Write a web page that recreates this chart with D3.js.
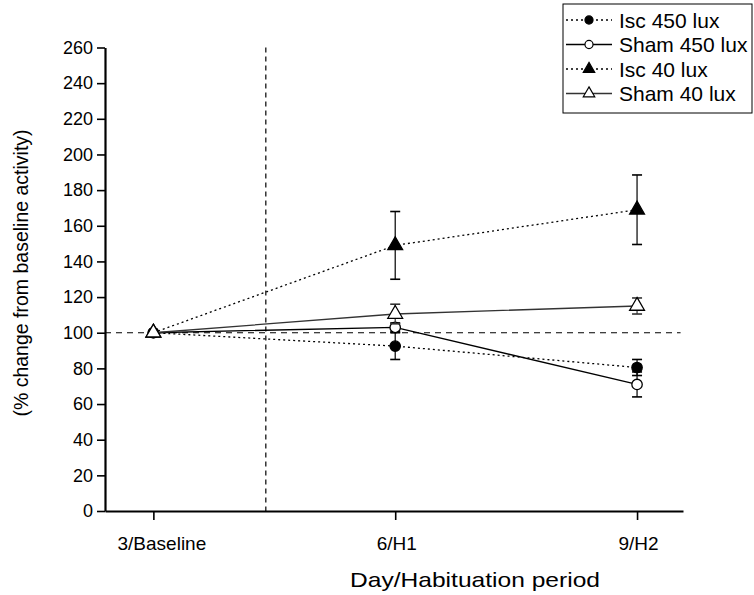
<!DOCTYPE html>
<html>
<head>
<meta charset="utf-8">
<script src="https://cdn.jsdelivr.net/npm/d3@7"></script>
<style>
  body { margin: 0; background: #fff; }
  text { font-family: "Liberation Sans", Arial, sans-serif; fill: #000; }
</style>
</head>
<body>
<script>
// categories on the x axis
var periods = ["3/Baseline", "6/H1", "9/H2"];

// series values (% change from baseline) and error bar half-widths
var isc450 = [100, 92.5, 80.5];
var isc450Err = [0, 7.5, 4.5];
var sham450 = [100, 103, 71];
var sham450Err = [0, 2.5, 7];
var isc40 = [100, 149, 169];
var isc40Err = [0, 19, 19.5];
var sham40 = [100, 110.5, 115];
var sham40Err = [0, 5.5, 4.5];

var yTicks = [0, 20, 40, 60, 80, 100, 120, 140, 160, 180, 200, 220, 240, 260];
var seriesNames = ["Isc 450 lux", "Sham 450 lux", "Isc 40 lux", "Sham 40 lux"];

var svg = d3.select("body").append("svg")
    .attr("width", 754)
    .attr("height", 595);

// scales
var x = d3.scaleLinear().domain([-0.2, 2.19]).range([105, 683]);
var y = d3.scaleLinear().domain([0, 260]).range([511, 47.5]);

// reference lines
svg.append("line")
    .attr("x1", x(-0.2)).attr("x2", x(2.18))
    .attr("y1", y(100)).attr("y2", y(100))
    .attr("stroke", "#000").attr("stroke-width", 1.2)
    .attr("stroke-dasharray", "6,5");

svg.append("line")
    .attr("x1", x(0.465)).attr("x2", x(0.465))
    .attr("y1", y(260)).attr("y2", y(0))
    .attr("stroke", "#000").attr("stroke-width", 1.2)
    .attr("stroke-dasharray", "5,4");

// axes
var yAxis = svg.append("g")
    .attr("transform", "translate(105,0)")
    .call(d3.axisLeft(y).tickValues(yTicks).tickSize(8).tickSizeOuter(0).tickPadding(4));

var xAxis = svg.append("g")
    .attr("transform", "translate(0,511)")
    .call(d3.axisBottom(x).tickValues([0, 1, 2]).tickFormat(function(i) { return periods[i]; })
      .tickSize(9).tickSizeOuter(0).tickPadding(17));

[yAxis, xAxis].forEach(function(a) {
  a.select(".domain").attr("stroke-width", 2.2);
  a.selectAll(".tick line").attr("stroke-width", 1.6);
  a.selectAll("text").style("font-size", "18px").style("font-family", "'Liberation Sans', Arial, sans-serif");
});
xAxis.selectAll(".tick text")
    .style("font-size", "19px")
    .attr("dx", function(d) { return d === 0 ? 8 : 1; });

// axis titles
svg.append("text")
    .attr("x", 475).attr("y", 587)
    .attr("text-anchor", "middle")
    .attr("textLength", 250)
    .attr("lengthAdjust", "spacingAndGlyphs")
    .style("font-size", "21px")
    .text("Day/Habituation period");

svg.append("text")
    .attr("transform", "translate(28,273) rotate(-90)")
    .attr("text-anchor", "middle")
    .style("font-size", "19.5px")
    .text("(% change from baseline activity)");

// series definitions
var series = [
  {name: seriesNames[0], values: isc450, err: isc450Err, dash: "2,3", color: "#000", shape: "circle", fill: "#000"},
  {name: seriesNames[1], values: sham450, err: sham450Err, dash: null, color: "#000", shape: "circle", fill: "#fff"},
  {name: seriesNames[2], values: isc40, err: isc40Err, dash: "2,3", color: "#000", shape: "triangle", fill: "#000"},
  {name: seriesNames[3], values: sham40, err: sham40Err, dash: null, color: "#333", shape: "triangle", fill: "#fff"}
];

var line = d3.line()
    .x(function(d, i) { return x(i); })
    .y(function(d) { return y(d); });

function symbolPath(shape, scale) {
  var k = scale || 1;
  if (shape === "circle") return d3.symbol().type(d3.symbolCircle).size(85 * k)();
  return d3.symbol().type(d3.symbolTriangle).size(95 * k)();
}

series.forEach(function(s) {
  var g = svg.append("g");

  // error bars
  s.values.forEach(function(v, i) {
    if (!s.err[i]) return;
    g.append("line")
        .attr("x1", x(i)).attr("x2", x(i))
        .attr("y1", y(v - s.err[i])).attr("y2", y(v + s.err[i]))
        .attr("stroke", s.color).attr("stroke-width", 1.2);
    [v - s.err[i], v + s.err[i]].forEach(function(e) {
      g.append("line")
          .attr("x1", x(i) - 5).attr("x2", x(i) + 5)
          .attr("y1", y(e)).attr("y2", y(e))
          .attr("stroke", s.color).attr("stroke-width", 1.6);
    });
  });

  g.append("path")
      .datum(s.values)
      .attr("d", line)
      .attr("fill", "none")
      .attr("stroke", s.color)
      .attr("stroke-width", 1.3)
      .attr("stroke-dasharray", s.dash);

  g.selectAll("path.pt")
      .data(s.values)
      .enter().append("path")
      .attr("class", "pt")
      .attr("d", symbolPath(s.shape))
      .attr("transform", function(d, i) { return "translate(" + x(i) + "," + y(d) + ")"; })
      .attr("fill", s.fill)
      .attr("stroke", "#000")
      .attr("stroke-width", 1.3);
});

// legend
var legend = svg.append("g");
legend.append("rect")
    .attr("x", 563).attr("y", 4)
    .attr("width", 189).attr("height", 109)
    .attr("fill", "#fff")
    .attr("stroke", "#000").attr("stroke-width", 1);

series.forEach(function(s, i) {
  var ly = 20 + i * 24.5;
  legend.append("line")
      .attr("x1", 566).attr("x2", 612)
      .attr("y1", ly).attr("y2", ly)
      .attr("stroke", s.color).attr("stroke-width", 1.3)
      .attr("stroke-dasharray", s.dash);
  legend.append("path")
      .attr("d", symbolPath(s.shape, 0.6))
      .attr("transform", "translate(589," + ly + ")")
      .attr("fill", s.fill)
      .attr("stroke", "#000").attr("stroke-width", 1.2);
  legend.append("text")
      .attr("x", 619).attr("y", ly + 7.5)
      .style("font-size", "21px")
      .text(s.name);
});
</script>
</body>
</html>
